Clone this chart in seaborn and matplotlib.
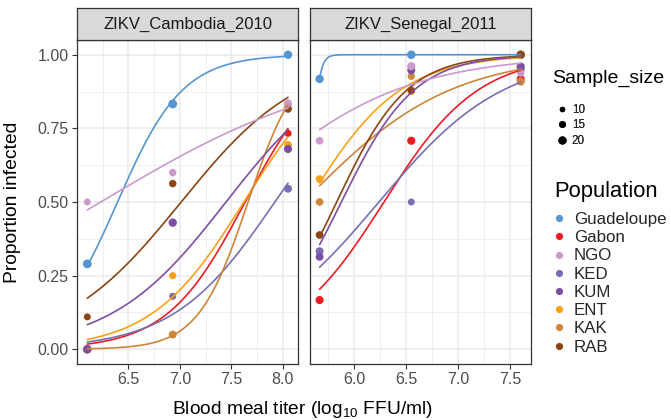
import numpy as np
import pandas as pd
import matplotlib
matplotlib.use("Agg")
import matplotlib.pyplot as plt
from matplotlib.lines import Line2D
from matplotlib.ticker import AutoMinorLocator, FormatStrFormatter
import seaborn as sns

# ---------------- data ----------------
populations = ["Guadeloupe", "Gabon", "NGO", "KED", "KUM", "ENT", "KAK", "RAB"]
draw_order = ["Guadeloupe", "Gabon", "KED", "ENT", "KAK", "RAB", "KUM", "NGO"]
colors = ["#5596D2", "#EC1C24", "#CC99CC", "#7570B3", "#7D4FA2", "#F9A01B", "#CD8538", "#8B4513"]
panels = ["ZIKV_Cambodia_2010", "ZIKV_Senegal_2011"]

titer_cambodia = [6.10, 6.93, 8.05]
titer_senegal = [5.67, 6.55, 7.60]

prop_cambodia = {
    "Guadeloupe": [0.29, 0.833, 1.00],
    "Gabon":      [0.00, 0.18, 0.733],
    "NGO":        [0.50, 0.60, 0.835],
    "KED":        [0.00, 0.18, 0.545],
    "KUM":        [0.00, 0.43, 0.68],
    "ENT":        [0.00, 0.25, 0.694],
    "KAK":        [0.00, 0.05, 0.83],
    "RAB":        [0.11, 0.5625, 0.816],
}
n_cambodia = {
    "Guadeloupe": [23, 23, 21],
    "Gabon":      [20, 14, 16],
    "NGO":        [15, 17, 19],
    "KED":        [20, 14, 19],
    "KUM":        [21, 21, 20],
    "ENT":        [20, 16, 18],
    "KAK":        [20, 19, 18],
    "RAB":        [15, 17, 18],
}
prop_senegal = {
    "Guadeloupe": [0.918, 1.00, 1.00],
    "Gabon":      [0.167, 0.708, 0.917],
    "NGO":        [0.708, 0.961, 0.938],
    "KED":        [0.333, 0.50, 0.95],
    "KUM":        [0.314, 0.947, 0.96],
    "ENT":        [0.578, 0.875, 1.00],
    "KAK":        [0.50, 0.927, 0.909],
    "RAB":        [0.388, 0.879, 1.00],
}
n_senegal = {
    "Guadeloupe": [21, 22, 22],
    "Gabon":      [20, 20, 20],
    "NGO":        [18, 20, 17],
    "KED":        [19, 15, 20],
    "KUM":        [19, 19, 20],
    "ENT":        [18, 16, 20],
    "KAK":        [18, 16, 20],
    "RAB":        [18, 17, 20],
}
size_breaks = [10, 15, 20]

# ---------------- build tables ----------------
rows = []
for panel, titers, props, ns in [(panels[0], titer_cambodia, prop_cambodia, n_cambodia),
                                 (panels[1], titer_senegal, prop_senegal, n_senegal)]:
    for pop in draw_order:
        for t, p, n in zip(titers, props[pop], ns[pop]):
            rows.append(dict(Panel=panel, Population=pop, Titer=t, Prop=p, Sample_size=n))
df = pd.DataFrame(rows)


def fit_logistic(x, p, n, iters=25):
    x = np.asarray(x, float); p = np.asarray(p, float); n = np.asarray(n, float)
    xm = x.mean()
    X = np.column_stack([np.ones_like(x), x - xm])
    mu = (n * p + 0.5) / (n + 1)
    eta = np.log(mu / (1 - mu))
    beta = np.zeros(2)
    for _ in range(iters):
        w = n * mu * (1 - mu)
        z = eta + (p - mu) / (mu * (1 - mu))
        Wm = np.diag(w)
        beta = np.linalg.solve(X.T @ Wm @ X, X.T @ Wm @ z)
        eta = X @ beta
        mu = np.clip(1 / (1 + np.exp(-eta)), 1e-12, 1 - 1e-12)
    return beta, xm


pred_rows = []
for (panel, pop), g in df.groupby(["Panel", "Population"], sort=False):
    beta, xm = fit_logistic(g.Titer, g.Prop, g.Sample_size)
    xs = np.linspace(g.Titer.min(), g.Titer.max(), 200)
    ys = 1 / (1 + np.exp(-(beta[0] + beta[1] * (xs - xm))))
    for a, b in zip(xs, ys):
        pred_rows.append(dict(Panel=panel, Population=pop, Titer=a, Prop=b))
pred = pd.DataFrame(pred_rows)

palette = dict(zip(populations, colors))


def size_s(n):
    # marker area (pt^2), linear in sample size
    return 15.5 + 1.9 * (n - 10)


size_map = {n: size_s(n) for n in sorted(df.Sample_size.unique())}

# ---------------- style ----------------
sns.set_theme(style="white")
plt.rcParams["font.family"] = ["Liberation Sans", "DejaVu Sans"]
plt.rcParams["mathtext.fontset"] = "custom"
plt.rcParams["mathtext.rm"] = "Liberation Sans"
plt.rcParams["mathtext.it"] = "Liberation Sans:italic"

W, H = 671, 420
fig = plt.figure(figsize=(W / 100, H / 100), dpi=100)


def rect(x0, y0, w, h):
    return [x0 / W, 1 - (y0 + h) / H, w / W, h / H]


panel_x = [77, 310]
panel_w = 221
panel_top, panel_h = 40, 324
xlims = [(6.0, 8.147), (5.578, 7.699)]
xticks = [[6.5, 7.0, 7.5, 8.0], [6.0, 6.5, 7.0, 7.5]]

for i, panel in enumerate(panels):
    ax = fig.add_axes(rect(panel_x[i], panel_top, panel_w, panel_h))
    ax.set_facecolor("white")
    sub = df[df.Panel == panel]
    sns.scatterplot(data=sub, x="Titer", y="Prop", hue="Population", palette=palette,
                    size="Sample_size", sizes=size_map, linewidth=0, alpha=1,
                    ax=ax, legend=False, zorder=3)
    subp = pred[pred.Panel == panel]
    sns.lineplot(data=subp, x="Titer", y="Prop", hue="Population", palette=palette,
                 estimator=None, sort=False, lw=1.2, ax=ax, legend=False, zorder=4)
    ax.set_xlim(*xlims[i])
    ax.set_ylim(-0.05, 1.05)
    ax.set_xticks(xticks[i])
    ax.set_yticks([0, 0.25, 0.5, 0.75, 1.0])
    ax.yaxis.set_major_formatter(FormatStrFormatter("%.2f"))
    ax.xaxis.set_major_formatter(FormatStrFormatter("%.1f"))
    ax.xaxis.set_minor_locator(AutoMinorLocator(2))
    ax.yaxis.set_minor_locator(AutoMinorLocator(2))
    ax.grid(True, which="major", color="#EBEBEB", lw=1.1, zorder=0)
    ax.grid(True, which="minor", color="#EBEBEB", lw=0.55, zorder=0)
    ax.set_axisbelow(True)
    ax.set_xlabel("")
    ax.set_ylabel("")
    for s in ax.spines.values():
        s.set_color("#333333")
        s.set_linewidth(0.9)
    ax.tick_params(axis="both", which="major", length=3.6, width=0.8, color="#333333",
                   labelsize=11.5, labelcolor="#4D4D4D", pad=2.5)
    ax.tick_params(axis="both", which="minor", length=0)
    ax.tick_params(bottom=True, left=(i == 0), labelleft=(i == 0))

    sax = fig.add_axes(rect(panel_x[i], 8, panel_w, 32))
    sax.set_facecolor("#D9D9D9")
    sax.set_xticks([]); sax.set_yticks([])
    for s in sax.spines.values():
        s.set_color("#333333")
        s.set_linewidth(0.9)
    sax.text(0.5, 0.5, panel, ha="center", va="center", fontsize=12, color="#1A1A1A",
             transform=sax.transAxes)

fig.text(302 / W, 1 - 409 / H, r"Blood meal titer (log$_{\mathregular{10}}$ FFU/ml)",
         ha="center", va="center", fontsize=13.8, color="black")
fig.text(13 / W, 1 - 202 / H, "Proportion infected", rotation=90,
         ha="center", va="center", fontsize=13.9, color="black")

# legends (titles as text, keys as legends)
fig.text(552 / W, 1 - 78 / H, "Sample_size", ha="left", va="center", fontsize=14, color="black")
size_handles = [Line2D([], [], marker="o", ls="", color="black", markeredgewidth=0,
                       markersize=np.sqrt(size_s(b))) for b in size_breaks]
leg1 = fig.legend(size_handles, [str(b) for b in size_breaks],
                  loc="upper left", bbox_to_anchor=(556 / W, 1 - 104 / H), frameon=False,
                  fontsize=8.4, borderpad=0,
                  handlelength=1.0, handletextpad=0.35, labelspacing=0.3,
                  borderaxespad=0)
fig.text(554 / W, 1 - 192 / H, "Population", ha="left", va="center", fontsize=15.8, color="black")
pop_handles = [Line2D([], [], marker="o", ls="", color=palette[p], markeredgewidth=0,
                      markersize=5.2) for p in populations]
leg2 = fig.legend(pop_handles, populations,
                  loc="upper left", bbox_to_anchor=(552 / W, 1 - 212 / H), frameon=False,
                  fontsize=12.2, borderpad=0,
                  handlelength=0.8, handletextpad=0.5, labelspacing=0.19,
                  borderaxespad=0)
fig.add_artist(leg1)

fig.savefig("out.png", dpi=100)
